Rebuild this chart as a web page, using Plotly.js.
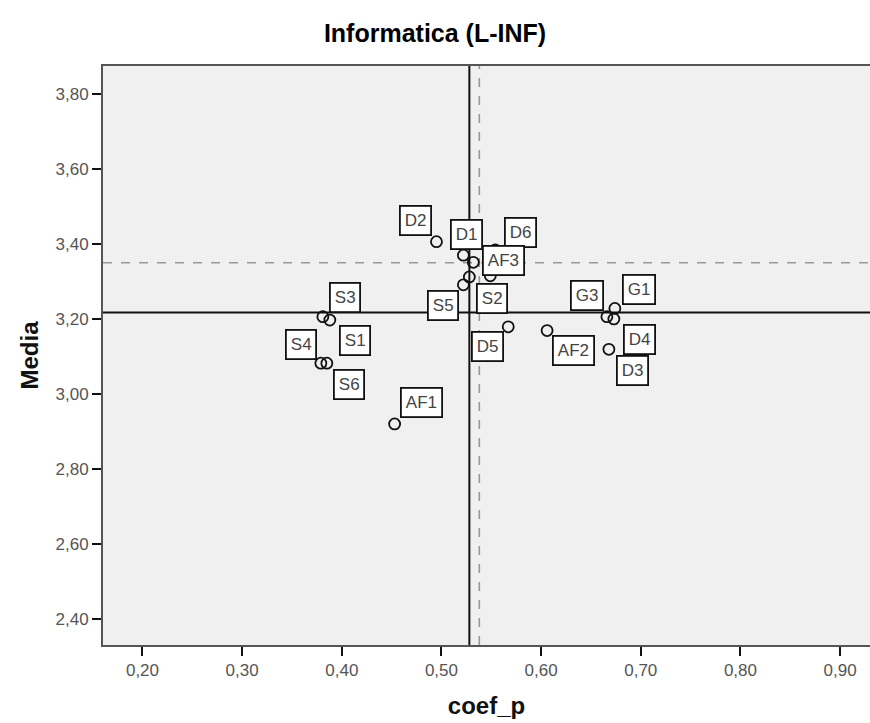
<!DOCTYPE html>
<html>
<head>
<meta charset="utf-8">
<script src="https://cdn.plot.ly/plotly-3.0.1.min.js"></script>
<style>html,body{margin:0;padding:0;background:#fff;}#chart{width:870px;height:723px;}</style>
</head>
<body>
<div id="chart"></div>
<script>
// Data
const labels = ["D2","D1","D6","AF3","S2","","S5","D5","AF2","G3","G1","D4","D3","S3","S1","S4","S6","AF1"];
const coefP  = [0.495,0.522,0.554,0.532,0.549,0.528,0.522,0.567,0.606,0.666,0.674,0.673,0.668,0.381,0.388,0.379,0.385,0.453];
const media  = [3.407,3.371,3.385,3.352,3.316,3.313,3.292,3.180,3.170,3.207,3.229,3.201,3.120,3.207,3.198,3.083,3.083,2.921];
const meanCoefP = 0.528, refCoefP = 0.538;
const meanMedia = 3.218, refMedia = 3.351;
const xTicks = [0.2,0.3,0.4,0.5,0.6,0.7,0.8,0.9];
const yTicks = [2.4,2.6,2.8,3.0,3.2,3.4,3.6,3.8];

// label box offsets in pixels (layout only)
const offsets = {
  "D2":[-21,-21],"D1":[3,-21],"D6":[25,-17],"AF3":[30,-2],"S2":[2,23],"S5":[-20,21],
  "D5":[-21,20],"AF2":[26,20],"G3":[-20,-21],"G1":[24,-19],"D4":[26,21],"D3":[24,21],
  "S3":[22,-19],"S1":[25,20],"S4":[-20,-19],"S6":[22,21],"AF1":[27,-21]
};

const NARROW = 'Liberation Sans Narrow, Arial Narrow, Liberation Sans, sans-serif';
const annotations = [];
labels.forEach((lab,i)=>{
  if(!lab) return;
  const o = offsets[lab] || [20,-20];
  annotations.push({
    x: coefP[i], y: media[i], xref:'x', yref:'y', text: lab, showarrow:false,
    xshift:o[0], yshift:-o[1],
    font:{family:NARROW, size:17, color:'#444'},
    bgcolor:'#ffffff', bordercolor:'#111', borderwidth:1.8, borderpad:4
  });
});

const trace = {
  x: coefP, y: media, mode:'markers', type:'scatter',
  marker:{symbol:'circle-open', size:11, color:'#111', line:{width:1.8, color:'#111'}},
  hoverinfo:'x+y+text', text: labels
};

const layout = {
  width:870, height:723,
  margin:{l:103, r:0, t:66, b:78},
  paper_bgcolor:'#ffffff', plot_bgcolor:'#f0f0f0',
  separators:',.',
  showlegend:false,
  title:{text:'<b>Informatica (L-INF)</b>', x:0.5, xref:'container', xanchor:'center', y:0.954, yref:'container', yanchor:'middle',
         font:{family:NARROW, size:25, color:'#000'}},
  xaxis:{range:[0.1604,0.930], tickvals:xTicks, tickformat:'.2f',
         ticks:'outside', ticklen:9, tickwidth:2, tickcolor:'#111',
         showgrid:false, zeroline:false, showline:true, linecolor:'#555', linewidth:2, mirror:true,
         tickfont:{family:NARROW, size:17, color:'#555'},
         title:{text:'<b>coef_p</b>', standoff:18, font:{family:NARROW, size:24, color:'#111'}}},
  yaxis:{range:[2.3315,3.8755], tickvals:yTicks, tickformat:'.2f',
         ticks:'outside', ticklen:9, tickwidth:2, tickcolor:'#111',
         showgrid:false, zeroline:false, showline:true, linecolor:'#555', linewidth:2, mirror:true,
         tickfont:{family:NARROW, size:17, color:'#555'},
         title:{text:'<b>Media</b>', standoff:10, font:{family:NARROW, size:24, color:'#111'}}},
  shapes:[
    {type:'line', xref:'x', yref:'paper', x0:refCoefP, x1:refCoefP, y0:0, y1:1, line:{color:'#999', width:1.6, dash:'dash'}, layer:'below'},
    {type:'line', xref:'paper', yref:'y', x0:0, x1:1, y0:refMedia, y1:refMedia, line:{color:'#999', width:1.6, dash:'dash'}, layer:'below'},
    {type:'line', xref:'x', yref:'paper', x0:meanCoefP, x1:meanCoefP, y0:0, y1:1, line:{color:'#111', width:2}, layer:'below'},
    {type:'line', xref:'paper', yref:'y', x0:0, x1:1, y0:meanMedia, y1:meanMedia, line:{color:'#111', width:2}, layer:'below'}
  ],
  annotations: annotations
};

Plotly.newPlot('chart', [trace], layout, {displayModeBar:false, staticPlot:true});
</script>
</body>
</html>
